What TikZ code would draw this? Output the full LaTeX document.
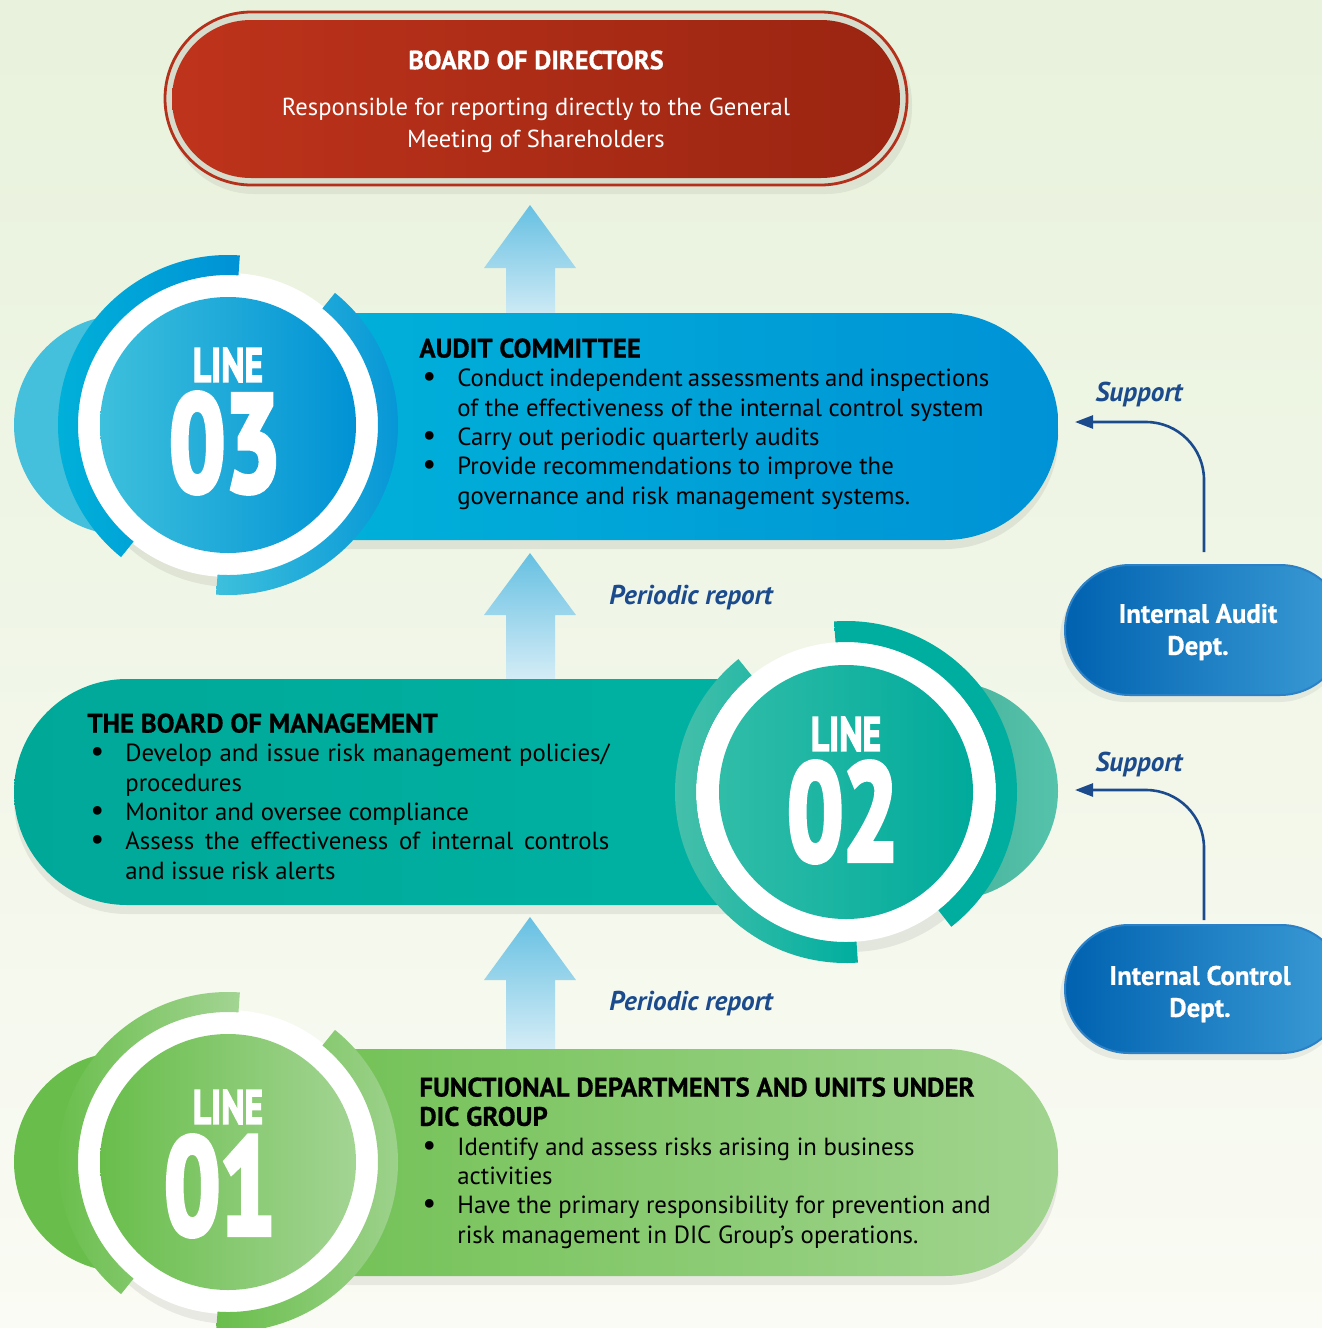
\documentclass[tikz,border=0pt]{standalone}
\usepackage{fontspec}
\setmainfont{PT Sans}
\newfontfamily\heavyfont{PT Sans}[BoldFeatures={FakeBold=5}]
\newfontfamily\midfont{PT Sans}[BoldFeatures={FakeBold=3}]
\newfontfamily\headfont{PT Sans}[BoldFeatures={FakeBold=0.6}]
\usepackage{graphicx}
\usetikzlibrary{arrows.meta,calc}
\definecolor{bgtop}{HTML}{E8F2DC}
\definecolor{bgbot}{HTML}{FAFBF4}
\definecolor{bdl}{HTML}{BE331B}
\definecolor{bdr}{HTML}{9A2511}
\definecolor{bdline}{HTML}{B5301B}
\definecolor{bdgap}{HTML}{D7DDCC}
\definecolor{arrtop}{HTML}{66C0E2}
\definecolor{arrbot}{HTML}{DDF0F8}
\definecolor{navy}{HTML}{1B4B8D}
\definecolor{b3l}{HTML}{00B1D9}
\definecolor{b3r}{HTML}{0092D6}
\definecolor{c3back}{HTML}{44BFDC}
\definecolor{c3l}{HTML}{3DC0DC}
\definecolor{c3r}{HTML}{0092D5}
\definecolor{b2l}{HTML}{00A898}
\definecolor{b2r}{HTML}{00B3A4}
\definecolor{c2bl}{HTML}{3FA28D}
\definecolor{c2br}{HTML}{55C3AB}
\definecolor{c2l}{HTML}{30BDA8}
\definecolor{c2r}{HTML}{00AA9B}
\definecolor{a2l}{HTML}{4DC2AC}
\definecolor{a2r}{HTML}{00AE9F}
\definecolor{b1l}{HTML}{74C257}
\definecolor{b1r}{HTML}{A1D48F}
\definecolor{c1back}{HTML}{69BE4B}
\definecolor{c1l}{HTML}{69BE4B}
\definecolor{c1r}{HTML}{A3D493}
\definecolor{dl}{HTML}{0062B0}
\definecolor{dr}{HTML}{3C9CD6}
\definecolor{dborder}{HTML}{2B80C6}
\newcommand\bul{\makebox[19pt][l]{\hspace{1.5pt}\scalebox{1.25}{\textbullet}}}
\newcommand\ind{\hspace*{19pt}}
\newcommand\hd[1]{{\headfont\fontsize{13.4}{14.65}\bfseries\selectfont #1}}
\begin{document}
\begin{tikzpicture}[x=0.5pt,y=-0.5pt,
  bodytxt/.style={font=\fontsize{12.4}{14.65}\selectfont, align=left, inner sep=0, anchor=north west, text=black},
  linelbl/.style={font=\midfont\fontsize{24}{24}\bfseries\selectfont, text=white, inner sep=0},
  linenum/.style={font=\heavyfont\fontsize{68}{68}\bfseries\selectfont, text=white, inner sep=0},
  periodic/.style={font=\headfont\fontsize{13.6}{14}\bfseries\itshape\selectfont, text=navy, inner sep=0},
  supportarrow/.style={draw=navy, line width=1.3pt, rounded corners=29pt, -{Triangle[length=9pt,width=6.5pt]}},
  depttxt/.style={font=\headfont\fontsize{13.4}{16}\bfseries\selectfont, text=white, align=center, inner sep=0},
  blockarrow/.style={top color=arrtop, bottom color=arrbot},
  ringshadow/.style={fill=black, opacity=0.07}
]
\useasboundingbox (0,0) rectangle (1322,1328);
\clip (0,0) rectangle (1322,1328);
\shade[top color=bgtop,bottom color=bgbot] (0,0) rectangle (1322,1328);

% ---------- Board of directors
\fill[black,opacity=0.06] (168,18) [rounded corners=43pt] rectangle (912,194);
\draw[rounded corners=43.25pt, draw=bdline, line width=1.4pt, fill=bdgap] (165,12) rectangle (907,185);
\shade[rounded corners=39.5pt, left color=bdl, right color=bdr] (172,20) rectangle (900,178);
\node[font=\headfont\fontsize{13.2}{15}\bfseries\selectfont, text=white, inner sep=0] (bod) at (536,60) {BOARD OF DIRECTORS};
\node[font=\fontsize{12.3}{16}\selectfont, text=white, align=center, inner sep=0] (bodtxt) at (536,125) {Responsible for reporting directly to the General\\Meeting of Shareholders};

% ---------- block arrows
\shade[blockarrow] (530,205) -- (576,268) -- (555,268) -- (555,330) -- (506,330) -- (506,268) -- (484,268) -- cycle;
\shade[blockarrow] (530,553) -- (576,615) -- (555,615) -- (555,690) -- (506,690) -- (506,615) -- (484,615) -- cycle;
\shade[blockarrow] (530,917) -- (576,980) -- (555,980) -- (555,1060) -- (506,1060) -- (506,980) -- (484,980) -- cycle;

% ---------- LINE 03
\fill[black,opacity=0.07] (340,322) -- (945,322) arc[start angle=-90,end angle=90,radius=113.5] -- (340,549) -- cycle;
\fill[c3back] (124,425) circle[radius=110];
\shade[left color=b3l,right color=b3r] (330,313) -- (945,313) arc[start angle=-90,end angle=90,radius=113.5] -- (330,540) -- cycle;
\fill[ringshadow] (232,432) circle[radius=155];
\fill[white] (228,425) circle[radius=152];
\begin{scope}[shift={(228,425)}]
  \shade[left color=b3l,right color=b3r] (-86:170) arc[start angle=-86,end angle=-231,radius=170] -- (-231:150) arc[start angle=-231,end angle=-86,radius=150] -- cycle;
  \shade[left color=c3l,right color=b3r] (-51:170) arc[start angle=-51,end angle=94,radius=170] -- (94:150) arc[start angle=94,end angle=-51,radius=150] -- cycle;
\end{scope}
\shade[left color=c3l,right color=c3r] (228,425) circle[radius=128];
\node[linelbl] (l3a) at (228,365) {\scalebox{0.74}[1]{LINE}};
\node[linenum] (l3b) at (225,443) {\scalebox{0.72}[1]{03}};
\node[bodytxt] (t3) at (419,338) {\hd{AUDIT COMMITTEE}\\
\bul \makebox[266pt][s]{Conduct independent assessments and inspections}\\
\ind of the effectiveness of the internal control system\\
\bul Carry out periodic quarterly audits\\
\bul Provide recommendations to improve the\\
\ind governance and risk management systems.};

% ---------- LINE 02
\fill[black,opacity=0.07] (860,688) -- (127,688) arc[start angle=-90,end angle=-270,radius=113] -- (860,914) -- cycle;
\shade[left color=c2bl,right color=c2br] (949,791) circle[radius=109];
\shade[left color=b2l,right color=b2r] (860,679) -- (127,679) arc[start angle=-90,end angle=-270,radius=113] -- (860,905) -- cycle;
\fill[ringshadow] (850,799) circle[radius=153];
\fill[white] (846,792) circle[radius=150];
\begin{scope}[shift={(846,792)}]
  \shade[left color=a2r,right color=a2r] (-94:171) arc[start angle=-94,end angle=52,radius=171] -- (52:150) arc[start angle=52,end angle=-94,radius=150] -- cycle;
  \shade[left color=a2l,right color=a2r] (-129:171) arc[start angle=-129,end angle=-274,radius=171] -- (-274:150) arc[start angle=-274,end angle=-129,radius=150] -- cycle;
\end{scope}
\shade[left color=c2l,right color=c2r] (846,792) circle[radius=127];
\node[linelbl] (l2a) at (846,734) {\scalebox{0.74}[1]{LINE}};
\node[linenum] (l2b) at (843,812) {\scalebox{0.72}[1]{02}};
\node[bodytxt] (t2) at (87,713) {\hd{THE BOARD OF MANAGEMENT}\\
\bul \makebox[242pt][s]{Develop and issue risk management policies/}\\
\ind procedures\\
\bul Monitor and oversee compliance\\
\bul \makebox[242pt][s]{Assess the effectiveness of internal controls}\\
\ind and issue risk alerts};

% ---------- LINE 01
\fill[black,opacity=0.07] (340,1058) -- (945,1058) arc[start angle=-90,end angle=90,radius=113.5] -- (340,1285) -- cycle;
\fill[c1back] (124,1162) circle[radius=110];
\shade[left color=b1l,right color=b1r] (330,1049) -- (945,1049) arc[start angle=-90,end angle=90,radius=113.5] -- (330,1276) -- cycle;
\fill[ringshadow] (232,1169) circle[radius=155];
\fill[white] (228,1162) circle[radius=152];
\begin{scope}[shift={(228,1162)}]
  \shade[left color=c1l,right color=c1r] (-86:170) arc[start angle=-86,end angle=-231,radius=170] -- (-231:150) arc[start angle=-231,end angle=-86,radius=150] -- cycle;
  \shade[left color=c1l,right color=c1r] (-51:170) arc[start angle=-51,end angle=94,radius=170] -- (94:150) arc[start angle=94,end angle=-51,radius=150] -- cycle;
\end{scope}
\shade[left color=c1l,right color=c1r] (228,1162) circle[radius=128];
\node[linelbl] (l1a) at (228,1107) {\scalebox{0.74}[1]{LINE}};
\node[linenum] (l1b) at (220,1186) {\scalebox{0.72}[1]{01}};
\node[bodytxt] (t1) at (419,1077) {\hd{FUNCTIONAL DEPARTMENTS AND UNITS UNDER}\\
\hd{DIC GROUP}\\
\bul Identify and assess risks arising in business\\
\ind activities\\
\bul Have the primary responsibility for prevention and\\
\ind risk management in DIC Group’s operations.};

% ---------- periodic report labels
\node[periodic] (pr1) at (691,598) {Periodic report};
\node[periodic] (pr2) at (691,1004) {Periodic report};

% ---------- departments
\fill[black,opacity=0.06] (1060,572) [rounded corners=33pt] rectangle (1345,702);
\shade[rounded corners=32.5pt, left color=dl, right color=dr, draw=dborder, line width=1pt] (1065,565) rectangle (1345,695);
\node[depttxt] (iad) at (1198,632) {Internal Audit\\Dept.};
\fill[black,opacity=0.06] (1060,932) [rounded corners=33pt] rectangle (1345,1060);
\shade[rounded corners=32pt, left color=dl, right color=dr, draw=dborder, line width=1pt] (1065,925) rectangle (1345,1053);
\node[depttxt] (icd) at (1200,994) {Internal Control\\Dept.};

% ---------- support connectors
\coordinate (s1a) at (1204,552);
\coordinate (s1b) at (1075,422);
\coordinate (s2a) at (1204,920);
\coordinate (s2b) at (1075,790);
\draw[supportarrow] (s1a) |- (s1b);
\draw[supportarrow] (s2a) |- (s2b);
\node[periodic] (sup1) at (1139,395) {Support};
\node[periodic] (sup2) at (1139,764) {Support};
\end{tikzpicture}
\end{document}
